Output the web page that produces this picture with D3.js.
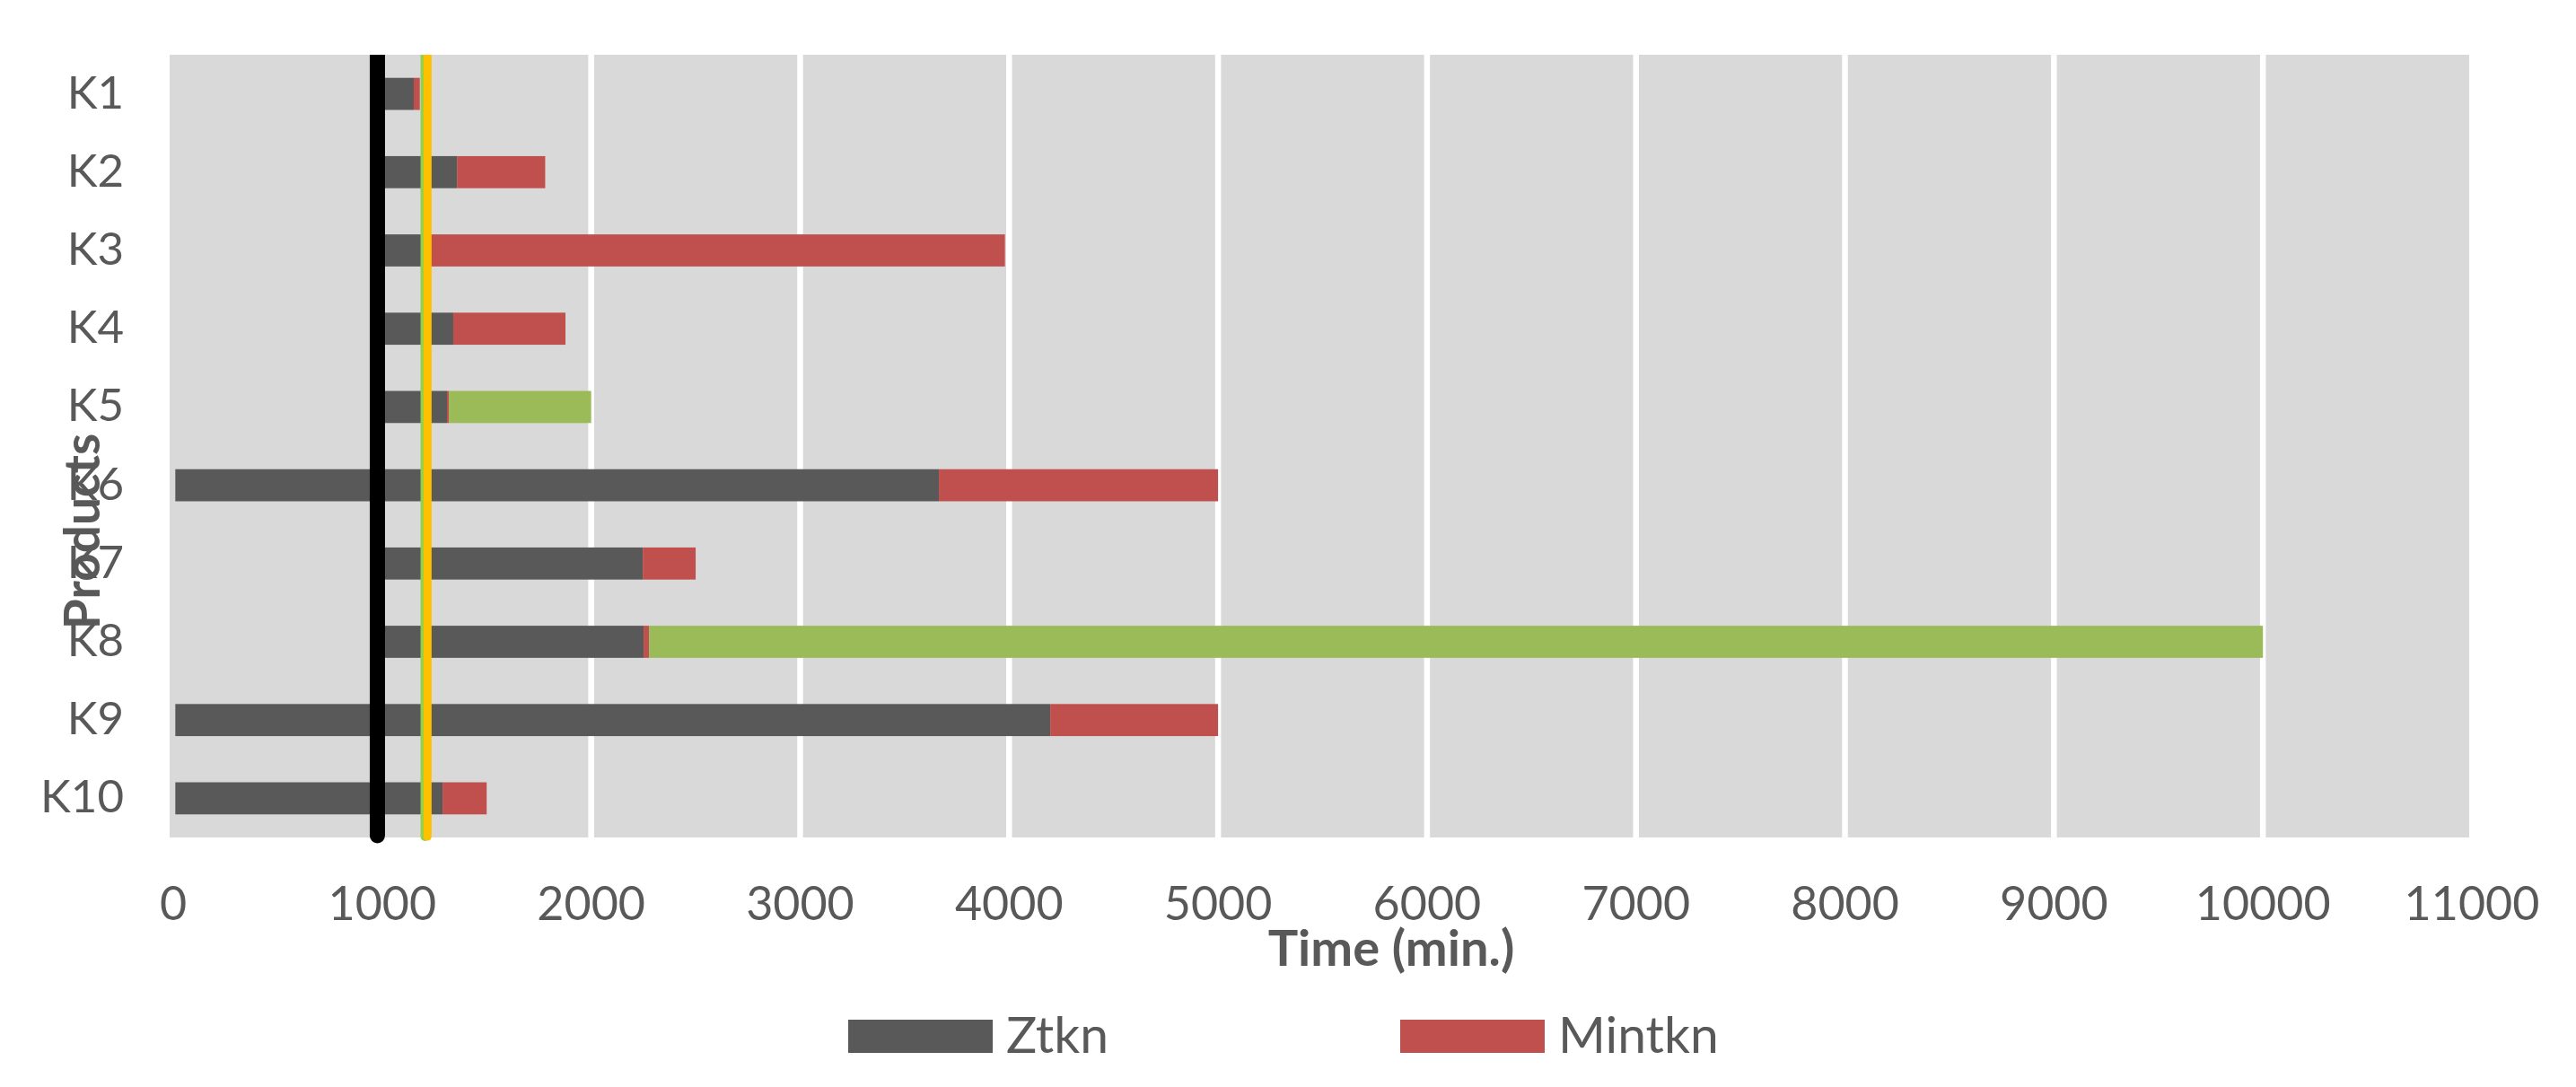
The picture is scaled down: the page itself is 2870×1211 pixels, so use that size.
<!DOCTYPE html>
<html>
<head>
<meta charset="utf-8">
<script src="https://cdn.jsdelivr.net/npm/d3@7"></script>
<style>
  html, body { margin: 0; padding: 0; background: #fff; }
  svg { display: block; }
</style>
</head>
<body>
<div id="chart"></div>
<script>
// products on the category axis
const categories = ["K1", "K2", "K3", "K4", "K5", "K6", "K7", "K8", "K9", "K10"];
// invisible lead-in before each bar (min.)
const startOffset = [1000, 1000, 1000, 1000, 1000, 10, 1000, 1000, 10, 10];
// Ztkn segment length
const ztkn = [151, 358, 220, 340, 310, 3654, 1247, 1251, 4187, 1279];
// Mintkn segment length
const mintkn = [29, 422, 2760, 537, 9, 1336, 253, 26, 803, 211];
// green remainder (not in legend)
const rest = [0, 0, 0, 0, 681, 0, 0, 7723, 0, 0];
// vertical reference lines (value, colour, width)
const refValues = [977, 1205, 1217];
const refColors = ["#000000", "#92D050", "#FFC000"];
const refWidths = [17, 10, 9];
const xTicks = d3.range(0, 11001, 1000);
const legendNames = ["Ztkn", "Mintkn"];

const W = 2870, H = 1211;
const colors = { ztkn: "#595959", mintkn: "#C0504D", rest: "#9BBB59" };
const textColor = "#595959";
const font = "Lato, 'Open Sans', sans-serif";

const svg = d3.select("#chart").append("svg")
  .attr("width", W).attr("height", H)
  .style("font-family", font);

const plotTop = 61, plotBottom = 933;
const x = d3.scaleLinear().domain([0, 11000]).range([193, 2754]);
const y = d3.scaleBand().domain(categories).range([plotTop, plotBottom])
  .paddingInner(0.59).paddingOuter(0.295);

// plot background
svg.append("rect")
  .attr("x", x(0) - 4).attr("y", plotTop)
  .attr("width", x(11000) - 3 - (x(0) - 4))
  .attr("height", plotBottom - plotTop)
  .attr("fill", "#D9D9D9");

// gridlines
svg.append("g").selectAll("line")
  .data(xTicks.filter((d) => d > 0 && d < 11000))
  .join("line")
  .attr("x1", (d) => x(d)).attr("x2", (d) => x(d))
  .attr("y1", plotTop).attr("y2", plotBottom)
  .attr("stroke", "#fff").attr("stroke-width", 6.5);

// stacked bars
const rows = categories.map((c, i) => ({
  cat: c, offset: startOffset[i], ztkn: ztkn[i], mintkn: mintkn[i], rest: rest[i]
}));
const stack = d3.stack().keys(["offset", "ztkn", "mintkn", "rest"]);
const series = stack(rows);

svg.append("g").selectAll("g")
  .data(series.filter((s) => s.key !== "offset"))
  .join("g")
  .attr("fill", (s) => colors[s.key])
  .selectAll("rect")
  .data((s) => s.filter((d) => d[1] > d[0]))
  .join("rect")
  .attr("x", (d) => x(d[0]))
  .attr("width", (d) => x(d[1]) - x(d[0]))
  .attr("y", (d) => y(d.data.cat))
  .attr("height", y.bandwidth());

// reference lines, flat at the top, rounded at the bottom
svg.append("clipPath").attr("id", "clipTop")
  .append("rect").attr("x", 0).attr("y", plotTop).attr("width", W).attr("height", H);

svg.append("g").attr("clip-path", "url(#clipTop)")
  .selectAll("line")
  .data(refValues)
  .join("line")
  .attr("x1", (d) => x(d)).attr("x2", (d) => x(d))
  .attr("y1", plotTop - 10)
  .attr("y2", (d, i) => (i === 0 ? plotBottom - 2 : plotBottom - 1))
  .attr("stroke", (d, i) => refColors[i])
  .attr("stroke-width", (d, i) => refWidths[i])
  .attr("stroke-linecap", "round");

// category labels
svg.append("g").selectAll("text")
  .data(categories)
  .join("text")
  .attr("x", 138)
  .attr("y", (d) => y(d) + y.bandwidth() / 2 + 16)
  .attr("text-anchor", "end")
  .attr("fill", textColor)
  .attr("font-size", 51)
  .text((d) => d);

// value tick labels
svg.append("g").selectAll("text")
  .data(xTicks)
  .join("text")
  .attr("x", (d) => x(d))
  .attr("y", 1025)
  .attr("text-anchor", "middle")
  .attr("fill", textColor)
  .attr("font-size", 52)
  .text((d) => d);

// axis titles
svg.append("text")
  .attr("x", 1550).attr("y", 1076)
  .attr("text-anchor", "middle")
  .attr("fill", textColor)
  .attr("font-size", 56)
  .attr("font-weight", "bold")
  .text("Time (min.)");

svg.append("text")
  .attr("transform", "translate(111,592) rotate(-90)")
  .attr("text-anchor", "middle")
  .attr("fill", textColor)
  .attr("font-size", 55)
  .attr("font-weight", "bold")
  .text("Products");

// legend
const legendX = [945, 1560];
const legend = svg.append("g").selectAll("g")
  .data(legendNames)
  .join("g")
  .attr("transform", (d, i) => `translate(${legendX[i]},1136)`);

legend.append("rect")
  .attr("width", 161).attr("height", 37)
  .attr("fill", (d, i) => (i === 0 ? colors.ztkn : colors.mintkn));

legend.append("text")
  .attr("x", 176).attr("y", 37)
  .attr("fill", textColor)
  .attr("font-size", 57)
  .text((d) => d);
</script>
</body>
</html>
